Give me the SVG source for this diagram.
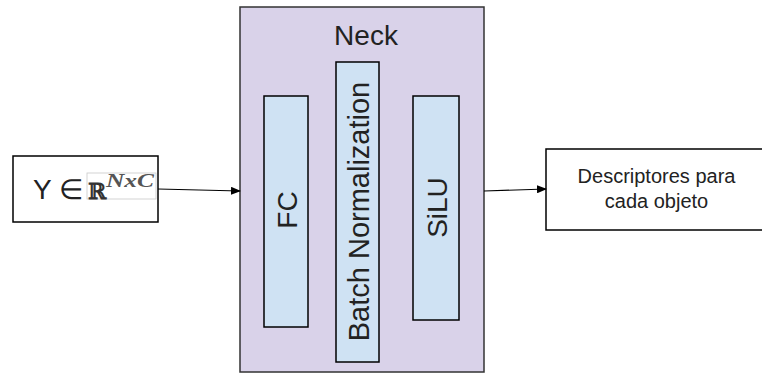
<svg xmlns="http://www.w3.org/2000/svg" width="762" height="373" viewBox="0 0 762 373">
<defs>
<style>
.box{fill:#ffffff;stroke:#000000;stroke-width:1.5}
.neck{fill:#d9d2e9;stroke:#333333;stroke-width:1.5}
.layer{fill:#cfe2f3;stroke:#000000;stroke-width:1.5}
.t{font-family:"Liberation Sans",Arial,sans-serif;fill:#222222}
.edge{stroke:#000000;stroke-width:1.2;fill:none}
</style>
<marker id="ah" markerWidth="10" markerHeight="8" refX="9" refY="4" orient="auto" markerUnits="userSpaceOnUse">
<path d="M0,0 L10,4 L0,8 z" fill="#000000"/>
</marker>
</defs>
<rect width="762" height="373" fill="#ffffff"/>
<g id="input">
<rect class="box" x="13" y="156" width="145" height="66"/>
<text class="t" x="33" y="199" font-size="28">Y ∈</text>
<rect x="87" y="173" width="69" height="26" fill="#ffffff" stroke="#c8c8c8" stroke-width="0.8"/>
<text x="88" y="199" font-family="DejaVu Serif,serif" font-weight="bold" font-size="22" fill="#333333">ℝ</text>
<text x="106" y="187" font-family="Liberation Serif,serif" font-style="italic" font-weight="bold" font-size="19" fill="#555555" textLength="48" lengthAdjust="spacingAndGlyphs">NxC</text>
</g>
<g id="neck">
<rect class="neck" x="240" y="7" width="244" height="365"/>
<text class="t" x="366" y="45" font-size="28" text-anchor="middle">Neck</text>
</g>
<g id="fc">
<rect class="layer" x="264" y="96" width="44" height="231"/>
<text class="t" transform="translate(297,210) rotate(-90)" font-size="28" text-anchor="middle">FC</text>
</g>
<g id="bn">
<rect class="layer" x="336" y="62" width="43" height="300"/>
<text class="t" transform="translate(369,211.5) rotate(-90)" font-size="29" text-anchor="middle">Batch Normalization</text>
</g>
<g id="silu">
<rect class="layer" x="413" y="96" width="46" height="224"/>
<text class="t" transform="translate(447,207.5) rotate(-90)" font-size="28" text-anchor="middle">SiLU</text>
</g>
<g id="output">
<rect class="box" x="546" y="149" width="230" height="81"/>
<text class="t" x="656.5" y="183" font-size="20" text-anchor="middle">Descriptores para</text>
<text class="t" x="656.5" y="208" font-size="20" text-anchor="middle">cada objeto</text>
</g>
<g id="connectors">
<line class="edge" x1="158" y1="189" x2="240" y2="191" marker-end="url(#ah)"/>
<line class="edge" x1="484" y1="191" x2="546" y2="189" marker-end="url(#ah)"/>
</g>
</svg>
